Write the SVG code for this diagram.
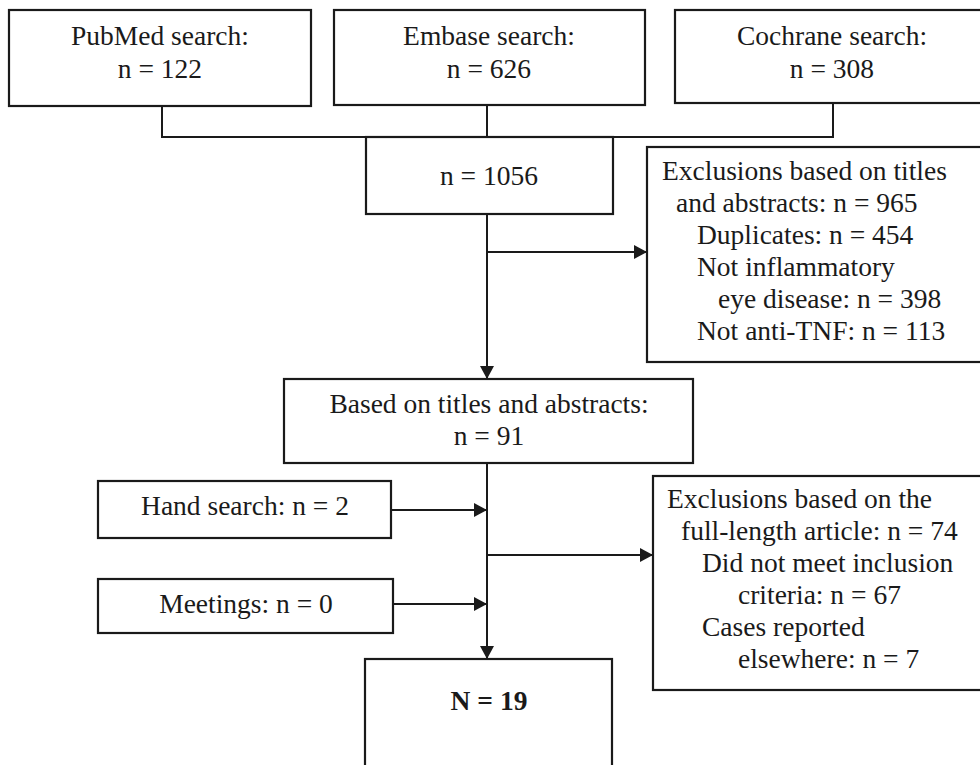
<svg xmlns="http://www.w3.org/2000/svg" width="980" height="765" viewBox="0 0 980 765">
<defs>
<marker id="arr" markerWidth="13" markerHeight="14" refX="13" refY="7" orient="auto" markerUnits="userSpaceOnUse">
<path d="M0,0 L13,7 L0,14 Z" fill="#1a1a1a"/>
</marker>
<style>
.box{fill:#fff;stroke:#1a1a1a;stroke-width:2.2}
.t{font-family:"Liberation Serif","Times New Roman",serif;font-size:27.5px;fill:#1a1a1a}
.c{text-anchor:middle}
.b{font-weight:bold}
.ln{fill:none;stroke:#1a1a1a;stroke-width:2}
</style>
</defs>
<rect width="980" height="765" fill="#fff"/>
<g id="connectors">
<polyline class="ln" points="162,106 162,137 833,137 833,103"/>
<line class="ln" x1="487" y1="105" x2="487" y2="137"/>
<line class="ln" x1="487" y1="214" x2="487" y2="379" marker-end="url(#arr)"/>
<line class="ln" x1="487" y1="252" x2="647" y2="252" marker-end="url(#arr)"/>
<line class="ln" x1="487" y1="463" x2="487" y2="659" marker-end="url(#arr)"/>
<line class="ln" x1="391" y1="510" x2="487" y2="510" marker-end="url(#arr)"/>
<line class="ln" x1="393" y1="604" x2="487" y2="604" marker-end="url(#arr)"/>
<line class="ln" x1="487" y1="555" x2="653" y2="555" marker-end="url(#arr)"/>
</g>
<g id="pubmed">
<rect class="box" x="9" y="10" width="302" height="96"/>
<text class="t c" x="160" y="45">PubMed search:</text>
<text class="t c" x="160" y="78">n = 122</text>
</g>
<g id="embase">
<rect class="box" x="334" y="10" width="311" height="95"/>
<text class="t c" x="489" y="45">Embase search:</text>
<text class="t c" x="489" y="78">n = 626</text>
</g>
<g id="cochrane">
<rect class="box" x="675" y="10" width="315" height="93"/>
<text class="t c" x="832" y="45">Cochrane search:</text>
<text class="t c" x="832" y="78">n = 308</text>
</g>
<g id="total">
<rect class="box" x="366" y="137" width="247" height="77"/>
<text class="t c" x="489" y="185">n = 1056</text>
</g>
<g id="excl1">
<rect class="box" x="647" y="147" width="343" height="215"/>
<text class="t" x="662" y="180">Exclusions based on titles</text>
<text class="t" x="676" y="212">and abstracts: n = 965</text>
<text class="t" x="697" y="244">Duplicates: n = 454</text>
<text class="t" x="697" y="276">Not inflammatory</text>
<text class="t" x="718" y="308">eye disease: n = 398</text>
<text class="t" x="697" y="340">Not anti-TNF: n = 113</text>
</g>
<g id="based">
<rect class="box" x="284" y="379" width="409" height="84"/>
<text class="t c" x="489" y="413">Based on titles and abstracts:</text>
<text class="t c" x="489" y="445">n = 91</text>
</g>
<g id="hand">
<rect class="box" x="98" y="481" width="293" height="57"/>
<text class="t c" x="245" y="515">Hand search: n = 2</text>
</g>
<g id="meetings">
<rect class="box" x="98" y="579" width="295" height="54"/>
<text class="t c" x="246" y="613">Meetings: n = 0</text>
</g>
<g id="excl2">
<rect class="box" x="653" y="476" width="337" height="214"/>
<text class="t" x="667" y="508">Exclusions based on the</text>
<text class="t" x="681" y="540">full-length article: n = 74</text>
<text class="t" x="702" y="572">Did not meet inclusion</text>
<text class="t" x="738" y="604">criteria: n = 67</text>
<text class="t" x="702" y="636">Cases reported</text>
<text class="t" x="738" y="668">elsewhere: n = 7</text>
</g>
<g id="final">
<rect class="box" x="365" y="659" width="247" height="120"/>
<text class="t c b" x="489" y="710">N = 19</text>
</g>
</svg>
